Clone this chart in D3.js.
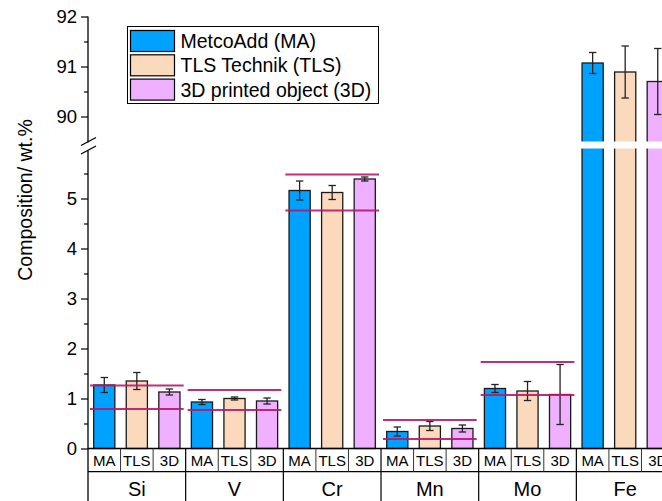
<!DOCTYPE html>
<html>
<head>
<meta charset="utf-8">
<script src="https://cdn.jsdelivr.net/npm/d3@7"></script>
<style>
  body { margin: 0; background: #fff; }
  svg { display: block; font-family: Arial, "Liberation Sans", sans-serif; }
</style>
</head>
<body>
<div id="chart"></div>
<script>
// elements and sample sources
const groups = ["Si", "V", "Cr", "Mn", "Mo", "Fe"];
const sources = ["MA", "TLS", "3D"];
const legendNames = ["MetcoAdd (MA)", "TLS Technik (TLS)", "3D printed object (3D)"];

// composition in wt.% and standard deviations
const maValues  = [1.27, 0.93, 5.16, 0.34, 1.20, 91.07];
const maErrors  = [0.15, 0.05, 0.19, 0.09, 0.08, 0.21];
const tlsValues = [1.35, 1.00, 5.12, 0.45, 1.15, 90.89];
const tlsErrors = [0.17, 0.03, 0.14, 0.09, 0.19, 0.52];
const d3Values  = [1.13, 0.95, 5.39, 0.40, 1.08, 90.70];
const d3Errors  = [0.06, 0.06, 0.04, 0.07, 0.60, 0.66];

// specification limits (horizontal lines)
const specMin = [0.79, 0.77, 4.76, 0.19, 1.07, null];
const specMax = [1.26, 1.17, 5.48, 0.57, 1.73, null];

const lowTicks = [0, 1, 2, 3, 4, 5];
const highTicks = [90, 91, 92];

const colors = ["#00a2ff", "#fbd9bd", "#eeb0ff"];

const width = 662, height = 501;
const left = 88;
const groupW = 97.67;
const axisBottom = 448.5;

const svg = d3.select("#chart").append("svg")
    .attr("width", width)
    .attr("height", height);

// broken y axis: two linear scales
const yLow = d3.scaleLinear().domain([0, 6]).range([axisBottom, 148.5]);
const yHigh = d3.scaleLinear().domain([89.5, 92]).range([141.5, 16.5]);
const y = v => v > 89.5 ? yHigh(v) : yLow(v);

const x = d3.scaleBand().domain(groups).range([left, left + groups.length * groupW]);
const xSub = d3.scaleBand().domain(sources).range([0, x.bandwidth()])
    .paddingInner(0.35).paddingOuter(0.175);

const data = [];
groups.forEach((g, i) => {
  [[maValues, maErrors], [tlsValues, tlsErrors], [d3Values, d3Errors]].forEach(([vals, errs], j) => {
    data.push({group: g, source: sources[j], value: vals[i], err: errs[i], color: colors[j]});
  });
});

// bars
svg.append("g")
  .selectAll("rect")
  .data(data)
  .join("rect")
    .attr("x", d => x(d.group) + xSub(d.source))
    .attr("y", d => y(d.value))
    .attr("width", xSub.bandwidth())
    .attr("height", d => axisBottom - y(d.value))
    .attr("fill", d => d.color)
    .attr("stroke", "#1a1a1a")
    .attr("stroke-width", 1.3);

// white gap of the axis break
svg.append("rect")
    .attr("x", left + 1)
    .attr("y", yHigh(89.5))
    .attr("width", width)
    .attr("height", yLow(6) - yHigh(89.5))
    .attr("fill", "#fff");

// error bars
const eb = svg.append("g")
    .attr("stroke", "#222")
    .attr("stroke-width", 1.3)
  .selectAll("g")
  .data(data)
  .join("g")
    .attr("transform", d => `translate(${x(d.group) + xSub(d.source) + xSub.bandwidth() / 2},0)`);
eb.append("line")
    .attr("y1", d => y(d.value - d.err))
    .attr("y2", d => y(d.value + d.err));
eb.append("line")
    .attr("x1", -3.7).attr("x2", 3.7)
    .attr("y1", d => y(d.value - d.err)).attr("y2", d => y(d.value - d.err));
eb.append("line")
    .attr("x1", -3.7).attr("x2", 3.7)
    .attr("y1", d => y(d.value + d.err)).attr("y2", d => y(d.value + d.err));

// specification lines
const specs = [];
groups.forEach((g, i) => {
  if (specMin[i] != null) specs.push({group: g, v: specMin[i]}, {group: g, v: specMax[i]});
});
svg.append("g")
  .selectAll("line")
  .data(specs)
  .join("line")
    .attr("x1", d => x(d.group) + 2)
    .attr("x2", d => x(d.group) + x.bandwidth() - 2)
    .attr("y1", d => yLow(d.v))
    .attr("y2", d => yLow(d.v))
    .attr("stroke", "#b8176c")
    .attr("stroke-width", 2)
    .attr("stroke-opacity", 0.9);

// y axis segments
function drawAxis(scale, ticks, minor) {
  const g = svg.append("g").attr("transform", `translate(${left},0)`);
  g.call(d3.axisLeft(scale).tickValues(ticks).tickFormat(d3.format("d"))
      .tickSize(7).tickSizeOuter(0).tickPadding(4))
    .attr("font-family", null)
    .attr("font-size", 18.5)
    .call(g => g.select(".domain").remove())
    .call(g => g.selectAll(".tick line").attr("stroke", "#000").attr("stroke-width", 1.2))
    .call(g => g.selectAll(".tick text").attr("fill", "#000"));
  const m = svg.append("g").attr("transform", `translate(${left},0)`);
  m.call(d3.axisLeft(scale).tickValues(minor).tickSize(4).tickFormat(""))
    .call(g => g.select(".domain").remove())
    .call(g => g.selectAll(".tick line").attr("stroke", "#000").attr("stroke-width", 1.2));
}
drawAxis(yLow, lowTicks, [0.5, 1.5, 2.5, 3.5, 4.5, 5.5]);
drawAxis(yHigh, highTicks, [90.5, 91.5]);

svg.append("line")
    .attr("x1", left).attr("x2", left)
    .attr("y1", yHigh(92)).attr("y2", yHigh(89.5) + 1)
    .attr("stroke", "#000").attr("stroke-width", 1.3);
svg.append("line")
    .attr("x1", left).attr("x2", left)
    .attr("y1", yLow(6) + 2).attr("y2", height)
    .attr("stroke", "#000").attr("stroke-width", 1.3);

// break marks
[yHigh(89.5), yLow(6) + 1.5].forEach(yy => {
  svg.append("line")
      .attr("x1", left - 7).attr("y1", yy + 4)
      .attr("x2", left + 8).attr("y2", yy - 4)
      .attr("stroke", "#000").attr("stroke-width", 1.2);
});

// y axis title
svg.append("text")
    .attr("transform", `translate(32,200) rotate(-90)`)
    .attr("text-anchor", "middle")
    .attr("font-size", 19.5)
    .text("Composition/ wt.%");

// category table under the plot
const rowMid = 471.7;
svg.append("line")
    .attr("x1", left).attr("x2", width)
    .attr("y1", axisBottom).attr("y2", axisBottom)
    .attr("stroke", "#000").attr("stroke-width", 1.3);
svg.append("line")
    .attr("x1", left).attr("x2", width)
    .attr("y1", rowMid).attr("y2", rowMid)
    .attr("stroke", "#000").attr("stroke-width", 1.2);

const cellW = x.bandwidth() / sources.length;
const cells = d3.cross(groups, sources.map((s, k) => k));
svg.append("g")
  .selectAll("line")
  .data(cells.filter(([g, k]) => k > 0))
  .join("line")
    .attr("x1", ([g, k]) => x(g) + k * cellW)
    .attr("x2", ([g, k]) => x(g) + k * cellW)
    .attr("y1", axisBottom).attr("y2", rowMid)
    .attr("stroke", "#333").attr("stroke-width", 1);

svg.append("g")
  .selectAll("line")
  .data(groups.slice(1))
  .join("line")
    .attr("x1", d => x(d)).attr("x2", d => x(d))
    .attr("y1", axisBottom).attr("y2", height)
    .attr("stroke", "#000").attr("stroke-width", 1.2);

svg.append("g")
    .attr("font-size", 15)
    .attr("text-anchor", "middle")
  .selectAll("text")
  .data(cells)
  .join("text")
    .attr("x", ([g, k]) => x(g) + (k + 0.5) * cellW)
    .attr("y", 465.5)
    .text(([g, k]) => sources[k]);

svg.append("g")
    .attr("font-size", 20)
    .attr("text-anchor", "middle")
  .selectAll("text")
  .data(groups)
  .join("text")
    .attr("x", d => x(d) + x.bandwidth() / 2)
    .attr("y", 495.5)
    .text(d => d);

// legend
const legend = svg.append("g").attr("transform", "translate(127.5,26.5)");
legend.append("rect")
    .attr("width", 251).attr("height", 77)
    .attr("fill", "#fff").attr("stroke", "#000").attr("stroke-width", 1);
const item = legend.selectAll("g.item")
  .data(legendNames)
  .join("g")
    .attr("class", "item")
    .attr("transform", (d, i) => `translate(3,${4 + i * 24.3})`);
item.append("rect")
    .attr("width", 44).attr("height", 21)
    .attr("fill", (d, i) => colors[i])
    .attr("stroke", "#000").attr("stroke-width", 1.2);
item.append("text")
    .attr("x", 50).attr("y", 17.5)
    .attr("font-size", 19.5)
    .text(d => d);
</script>
</body>
</html>
